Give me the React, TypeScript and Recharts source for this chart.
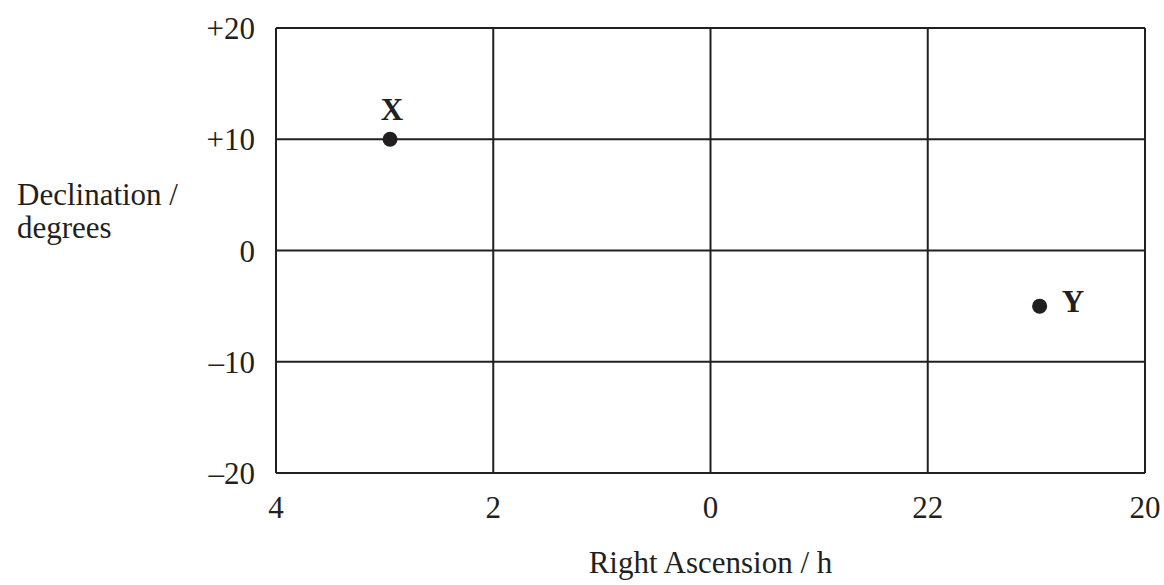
import { ReactElement } from 'react';
import { ScatterChart, Scatter, XAxis, YAxis, CartesianGrid, Label } from 'recharts';

// right ascension in hours, declination in degrees
const starNames = ['X', 'Y'];
const starRA = [2.95, 20.97];
const starDec = [10, -5];

const raTicks = [4, 2, 0, -2, -4];
const decTicks = [20, 10, 0, -10, -20];

const INK = '#231f20';
const FONT = '"Liberation Serif", "DejaVu Serif", serif';

// wrap RA round 0h so 22h and 20h sit to the right of 0
const wrapRA = (ra: number) => (ra > 12 ? ra - 24 : ra);

const stars = starNames.map((name, i) => ({
  name,
  ra: wrapRA(starRA[i]),
  dec: starDec[i],
}));

const fmtRA = (v: number) => String(v < 0 ? v + 24 : v);
const fmtDec = (v: number) => (v > 0 ? `+${v}` : v < 0 ? `\u2013${Math.abs(v)}` : '0');

const starShape = (side: 'top' | 'right') => (props: any): ReactElement => {
  const { cx, cy, payload } = props;
  return (
    <g>
      <circle cx={cx} cy={cy} r={7.5} fill={INK} />
      {side === 'top' ? (
        <text x={cx + 2} y={cy - 19} textAnchor="middle" fontSize={31} fontWeight="bold" fill={INK} fontFamily={FONT}>
          {payload.name}
        </text>
      ) : (
        <text x={cx + 22} y={cy + 6} textAnchor="start" fontSize={31} fontWeight="bold" fill={INK} fontFamily={FONT}>
          {payload.name}
        </text>
      )}
    </g>
  );
};

const DecLabel = (props: any) => {
  const { viewBox } = props;
  const mid = viewBox.y + viewBox.height / 2;
  return (
    <text x={viewBox.x + 17} fontSize={31} fill={INK} fontFamily={FONT} textAnchor="start">
      <tspan x={viewBox.x + 17} y={mid - 46}>Declination /</tspan>
      <tspan x={viewBox.x + 17} y={mid - 13}>degrees</tspan>
    </text>
  );
};

const RALabel = (props: any) => {
  const { viewBox } = props;
  return (
    <text x={viewBox.x + viewBox.width / 2} y={viewBox.y + 100} fontSize={31} fill={INK} fontFamily={FONT} textAnchor="middle">
      Right Ascension / h
    </text>
  );
};

const tickStyle = { fill: INK, fontSize: 31, fontFamily: FONT };

export default function App() {
  return (
    <>
      <style>{'html, body { margin: 0; padding: 0; overflow: hidden; }'}</style>
      <ScatterChart width={1164} height={585} margin={{ top: 28, right: 19, bottom: 0, left: 0 }} style={{ fontFamily: FONT }}>
        <CartesianGrid stroke={INK} strokeWidth={2} />
        <XAxis
          type="number"
          dataKey="ra"
          domain={[-4, 4]}
          reversed
          ticks={raTicks}
          tickFormatter={fmtRA}
          height={112}
          tickSize={0}
          tickMargin={23}
          tickLine={false}
          axisLine={{ stroke: INK, strokeWidth: 2 }}
          tick={tickStyle}
          interval={0}
        >
          <Label content={RALabel} />
        </XAxis>
        <YAxis
          type="number"
          dataKey="dec"
          domain={[-20, 20]}
          ticks={decTicks}
          tickFormatter={fmtDec}
          width={276}
          tickSize={0}
          tickMargin={21}
          tickLine={false}
          axisLine={{ stroke: INK, strokeWidth: 2 }}
          tick={tickStyle}
          interval={0}
        >
          <Label content={DecLabel} />
        </YAxis>
        <Scatter data={stars.filter((s) => s.name === 'X')} shape={starShape('top')} isAnimationActive={false} />
        <Scatter data={stars.filter((s) => s.name === 'Y')} shape={starShape('right')} isAnimationActive={false} />
      </ScatterChart>
    </>
  );
}
